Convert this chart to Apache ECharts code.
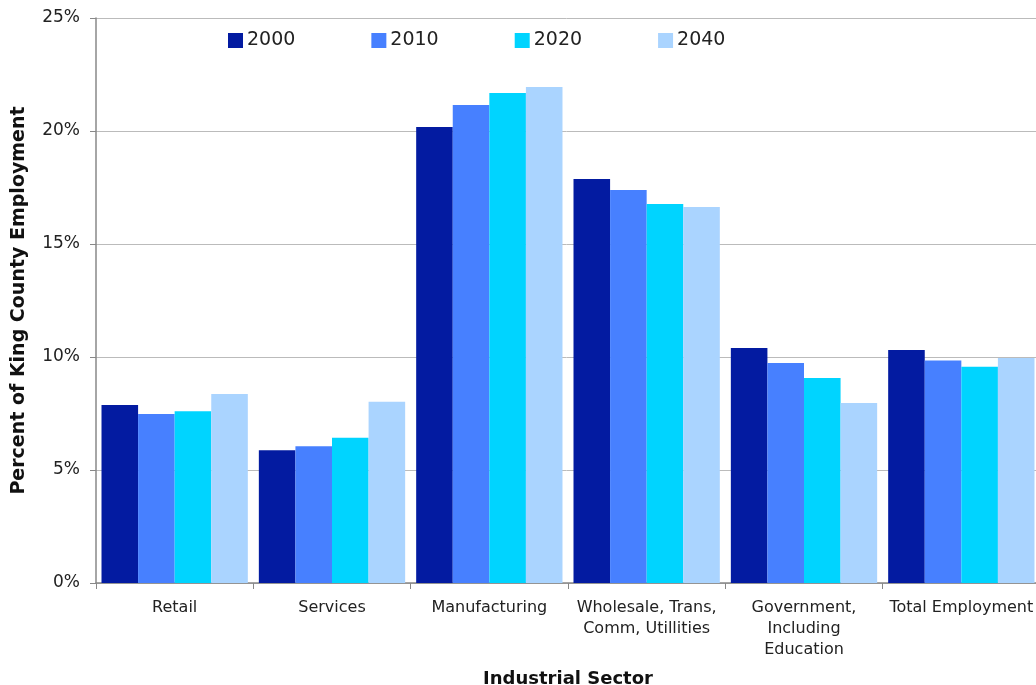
<!DOCTYPE html>
<html><head><meta charset="utf-8">
<script src="https://cdn.jsdelivr.net/npm/echarts@6/dist/echarts.min.js"></script>
<style>html,body{margin:0;padding:0;background:#fff}#c{width:1036px;height:685px}</style>
</head><body><div id="c"></div>
<script>
const categories = ['Retail','Services','Manufacturing','Wholesale, Trans,\nComm, Utillities','Government,\nIncluding\nEducation','Total Employment'];
const years = ['2000','2010','2020','2040'];
const v2000 = [7.88, 5.87, 20.18, 17.88, 10.40, 10.31];
const v2010 = [7.48, 6.05, 21.15, 17.39, 9.73, 9.84];
const v2020 = [7.60, 6.43, 21.68, 16.77, 9.07, 9.57];
const v2040 = [8.36, 8.02, 21.95, 16.64, 7.96, 9.96];
const yTicks = [0, 5, 10, 15, 20, 25];
const colors = ['#031ba1', '#4780ff', '#00d4ff', '#aad4ff'];
const seriesValues = [v2000, v2010, v2020, v2040];

const chart = echarts.init(document.getElementById('c'));
const font = 'DejaVu Sans, Verdana, sans-serif';
chart.setOption({
  animation: false,
  color: colors,
  textStyle: {fontFamily: font},
  legend: {
    left: 223, top: 26, itemWidth: 15, itemHeight: 15, itemGap: 76,
    icon: 'rect',
    textStyle: {fontSize: 19, color: '#222', fontFamily: font, padding: [0,0,0,-1]},
    data: years
  },
  grid: {left: 96, top: 18, bottom: 102, right: -4, containLabel: false, outerBoundsMode: 'none'},
  xAxis: {
    type: 'category', data: categories,
    name: 'Industrial Sector', nameLocation: 'middle', nameGap: 87,
    nameTextStyle: {fontSize: 18, fontWeight: 'bold', color: '#111', fontFamily: font},
    axisLine: {lineStyle: {color: '#888', width: 1.5}},
    axisTick: {show: true, length: 6, lineStyle: {color: '#888'}, alignWithLabel: false},
    axisLabel: {fontSize: 16, color: '#222', margin: 14, lineHeight: 21, interval: 0, fontFamily: font}
  },
  yAxis: {
    type: 'value', min: yTicks[0], max: yTicks[yTicks.length-1], interval: 5,
    name: 'Percent of King County Employment', nameLocation: 'middle', nameGap: 67,
    nameTextStyle: {fontSize: 19, fontWeight: 'bold', color: '#111', fontFamily: font},
    axisLine: {show: true, lineStyle: {color: '#888', width: 1.5}},
    axisTick: {show: true, length: 6, lineStyle: {color: '#888'}},
    splitLine: {lineStyle: {color: '#bbb', width: 1}},
    axisLabel: {fontSize: 17, color: '#222', margin: 16, formatter: v => v + '%', fontFamily: font}
  },
  series: years.map((y, i) => ({
    name: y, type: 'bar', data: seriesValues[i],
    barGap: '0%', barCategoryGap: '7%',
    itemStyle: {color: colors[i]}
  }))
});
</script></body></html>
